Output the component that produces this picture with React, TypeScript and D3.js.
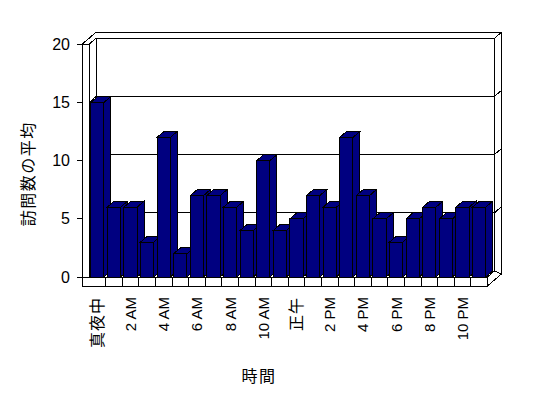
import * as d3 from 'd3';
import React from 'react';

const hours = [
  '真夜中', '1 AM', '2 AM', '3 AM', '4 AM', '5 AM', '6 AM', '7 AM', '8 AM', '9 AM', '10 AM', '11 AM',
  '正午', '1 PM', '2 PM', '3 PM', '4 PM', '5 PM', '6 PM', '7 PM', '8 PM', '9 PM', '10 PM', '11 PM',
];
const visits = [15, 6, 6, 3, 12, 2, 7, 7, 6, 4, 10, 4, 5, 7, 6, 12, 7, 5, 3, 5, 6, 5, 6, 6];
const yTicks = [0, 5, 10, 15, 20];
const yTitle = '訪問数の平均';
const xTitle = '時間';

const W = 548;
const H = 398;
const FILL = '#000080';
const FONT = "'Liberation Sans', 'Noto Sans CJK JP', sans-serif";
// depth vector of the oblique projection
const DX = 7;
const DY = -6;
const FLOOR = 9;

export default function App() {
  const x0 = 89;
  const x1 = 487.4;
  const cat = d3.scaleBand<string>().domain(hours).range([x0, x1]);
  const x = d3.scaleBand<string>().domain(hours).range([x0, x1]).paddingInner(0.2).paddingOuter(0.1);
  const y = d3.scaleLinear().domain([0, 20]).range([277, 44.3]);
  const bw = x.bandwidth();
  const yb = y(0);
  const yt = y(20);

  const pts = (p: number[][]) => p.map((d) => d.join(',')).join(' ');

  return (
    <div style={{ position: 'fixed', left: 0, top: 0 }}>
      <svg width={W} height={H} style={{ display: 'block', background: '#fff' }} fontFamily={FONT}>
        <g stroke="#000" strokeWidth={1} fill="#fff" shapeRendering="crispEdges">
          {/* back wall inner face */}
          <rect x={x0 + DX} y={yt + DY} width={x1 - x0} height={yb - yt} />
          {/* left wall inner face */}
          <polygon points={pts([[x0, yt], [x0 + DX, yt + DY], [x0 + DX, yb + DY], [x0, yb]])} />
          {/* wall tops */}
          <polygon
            points={pts([
              [x0 - DX, yt],
              [x0 + DX, yt + 2 * DY],
              [x1 + 2 * DX, yt + 2 * DY],
              [x1 + DX, yt + DY],
              [x0 + DX, yt + DY],
              [x0, yt],
            ])}
          />
          {/* back wall right side */}
          <polygon
            points={pts([
              [x1 + DX, yt + DY],
              [x1 + 2 * DX, yt + 2 * DY],
              [x1 + 2 * DX, yb + FLOOR + 2 * DY],
              [x1 + DX, yb + DY],
            ])}
          />
          {/* left wall front face */}
          <rect x={x0 - DX} y={yt} width={DX} height={yb - yt} />
          {/* floor top */}
          <polygon points={pts([[x0, yb], [x0 + DX, yb + DY], [x1 + DX, yb + DY], [x1, yb]])} />
          {/* floor right side */}
          <polygon
            points={pts([
              [x1, yb],
              [x1 + DX, yb + DY],
              [x1 + 2 * DX, yb + FLOOR + 2 * DY],
              [x1, yb + FLOOR],
            ])}
          />
          {/* floor front face */}
          <rect x={x0 - DX} y={yb} width={x1 - x0 + DX} height={FLOOR} />
        </g>

        {/* gridlines */}
        <g stroke="#000" strokeWidth={1} fill="none" shapeRendering="crispEdges">
          {yTicks
            .filter((v) => v > 0 && v < 20)
            .map((v) => (
              <g key={v}>
                <line x1={x0 + DX} x2={x1 + DX} y1={y(v) + DY} y2={y(v) + DY} />
                <line x1={x0} x2={x0 + DX} y1={y(v)} y2={y(v) + DY} />
                <line x1={x1 + DX} x2={x1 + 2 * DX} y1={y(v) + DY} y2={y(v) + 2 * DY} />
              </g>
            ))}
          {hours.slice(1).map((h) => (
            <line key={h} x1={cat(h)!} x2={cat(h)!} y1={yb} y2={yb + FLOOR} />
          ))}
        </g>

        {/* bars */}
        <g stroke="#000" strokeWidth={1} fill={FILL} shapeRendering="crispEdges">
          {hours.map((h, i) => {
            const bx = x(h)!;
            const by = y(visits[i]);
            return (
              <g key={h}>
                <polygon
                  points={pts([
                    [bx + bw, by],
                    [bx + bw + DX, by + DY],
                    [bx + bw + DX, yb + DY],
                    [bx + bw, yb],
                  ])}
                />
                <polygon
                  points={pts([
                    [bx, by],
                    [bx + DX, by + DY],
                    [bx + bw + DX, by + DY],
                    [bx + bw, by],
                  ])}
                />
                <rect x={bx} y={by} width={bw} height={yb - by} />
              </g>
            );
          })}
        </g>

        {/* y axis ticks and labels */}
        <g>
          {yTicks.map((v) => (
            <g key={v}>
              <line
                x1={x0 - DX - 5}
                x2={x0 - DX}
                y1={y(v)}
                y2={y(v)}
                stroke="#000"
                shapeRendering="crispEdges"
              />
              <text x={70} y={y(v)} textAnchor="end" dominantBaseline="central" fontSize={16}>
                {v}
              </text>
            </g>
          ))}
        </g>

        {/* x labels */}
        <g>
          {hours.map((h, i) =>
            i % 2 === 0 ? (
              <text
                key={h}
                transform={`translate(${cat(h)! + cat.bandwidth() / 2},297) rotate(-90)`}
                textAnchor="end"
                dominantBaseline="central"
                fontSize={/[A-Z]/.test(h) ? 15 : 16}
                letterSpacing={/[A-Z]/.test(h) ? 0 : 1}
              >
                {h}
              </text>
            ) : null,
          )}
        </g>

        <text
          transform="translate(28.5,173.7) rotate(-90)"
          textAnchor="middle"
          dominantBaseline="central"
          fontSize={16}
          letterSpacing={1.5}
        >
          {yTitle}
        </text>
        <text x={259} y={376} textAnchor="middle" dominantBaseline="central" fontSize={16} letterSpacing={1.5}>
          {xTitle}
        </text>
      </svg>
    </div>
  );
}
